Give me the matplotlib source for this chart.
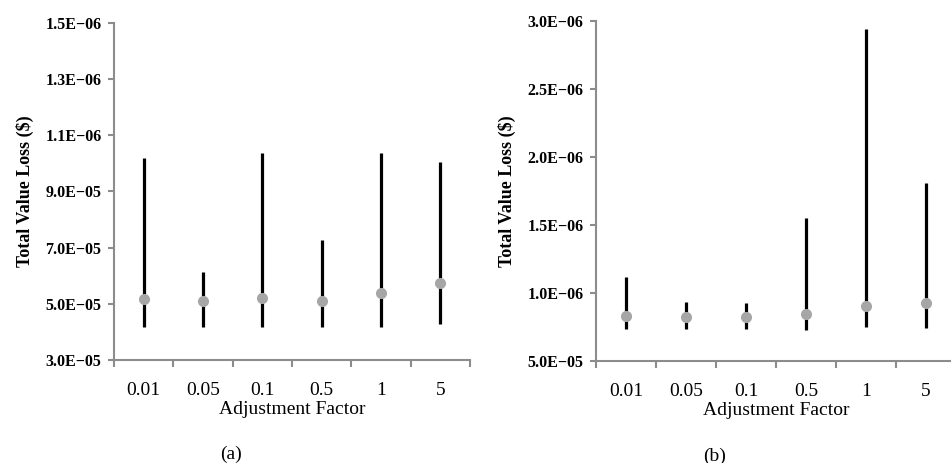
import matplotlib
matplotlib.use("Agg")
import matplotlib.pyplot as plt

# Categories on the x axis
factors = ["0.01", "0.05", "0.1", "0.5", "1", "5"]

# Panel (a): values in tick units (ticks at 3, 5, ..., 15)
a_ticks = [3, 5, 7, 9, 11, 13, 15]
a_tick_labels = ["3.0E\u221205", "5.0E\u221205", "7.0E\u221205", "9.0E\u221205",
                 "1.1E\u221206", "1.3E\u221206", "1.5E\u221206"]
a_low = [4.19, 4.19, 4.16, 4.19, 4.16, 4.27]
a_mid = [5.17, 5.11, 5.20, 5.11, 5.40, 5.73]
a_high = [10.18, 6.14, 10.38, 7.27, 10.38, 10.04]

# Panel (b): values in tick units (ticks at 5, 10, ..., 30)
b_ticks = [5, 10, 15, 20, 25, 30]
b_tick_labels = ["5.0E\u221205", "1.0E\u221206", "1.5E\u221206", "2.0E\u221206",
                 "2.5E\u221206", "3.0E\u221206"]
b_low = [7.35, 7.35, 7.35, 7.28, 7.48, 7.40]
b_mid = [8.33, 8.26, 8.26, 8.43, 9.04, 9.29]
b_high = [11.2, 9.32, 9.24, 15.49, 29.39, 18.07]

serif = ["Liberation Serif", "DejaVu Serif"]
axis_gray = "#8c8c8c"
dot_gray = "#a6a6a6"


def draw_panel(ax, low, mid, high, ticks, tick_labels, letter):
    x = list(range(len(factors)))
    ax.vlines(x, low, high, color="black", linewidth=2.3)
    ax.plot(x, mid, "o", color=dot_gray, markersize=7, zorder=3)
    ax.set_xlim(-0.5, len(factors) - 0.5)
    ax.set_ylim(ticks[0], ticks[-1])
    # spines
    for side in ["top", "right"]:
        ax.spines[side].set_visible(False)
    for side in ["left", "bottom"]:
        ax.spines[side].set_color(axis_gray)
        ax.spines[side].set_linewidth(1.5)
    # y ticks
    ax.set_yticks(ticks)
    ax.set_yticklabels(tick_labels, fontfamily=serif, fontweight="bold", fontsize=11.5)
    ax.tick_params(axis="y", length=4, width=1.5, color=axis_gray, pad=5)
    # x ticks: labels at categories, tick marks at boundaries
    ax.set_xticks(x)
    ax.set_xticklabels(factors, fontfamily=serif, fontsize=14)
    ax.tick_params(axis="x", which="major", length=0, pad=16)
    ax.set_xticks([i - 0.5 for i in range(len(factors) + 1)], minor=True)
    ax.tick_params(axis="x", which="minor", length=5, width=1.5, color=axis_gray)
    ax.set_xlabel("Adjustment Factor", fontfamily=serif, fontsize=14, labelpad=1)
    ax.set_ylabel("Total Value Loss ($)", fontfamily=serif, fontsize=13,
                  fontweight="bold", labelpad=8)
    ax.text(0.33, -0.28, letter, transform=ax.transAxes, ha="center", va="center",
            fontfamily=serif, fontsize=14)


fig = plt.figure(figsize=(9.51, 4.63), dpi=100)

ax_a = fig.add_axes([0.1199, 0.2225, 0.3743, 0.7285])
draw_panel(ax_a, a_low, a_mid, a_high, a_ticks, a_tick_labels, "(a)")

ax_b = fig.add_axes([0.6267, 0.2203, 0.3785, 0.735])
draw_panel(ax_b, b_low, b_mid, b_high, b_ticks, b_tick_labels, "(b)")

fig.savefig("out.png", dpi=100)
